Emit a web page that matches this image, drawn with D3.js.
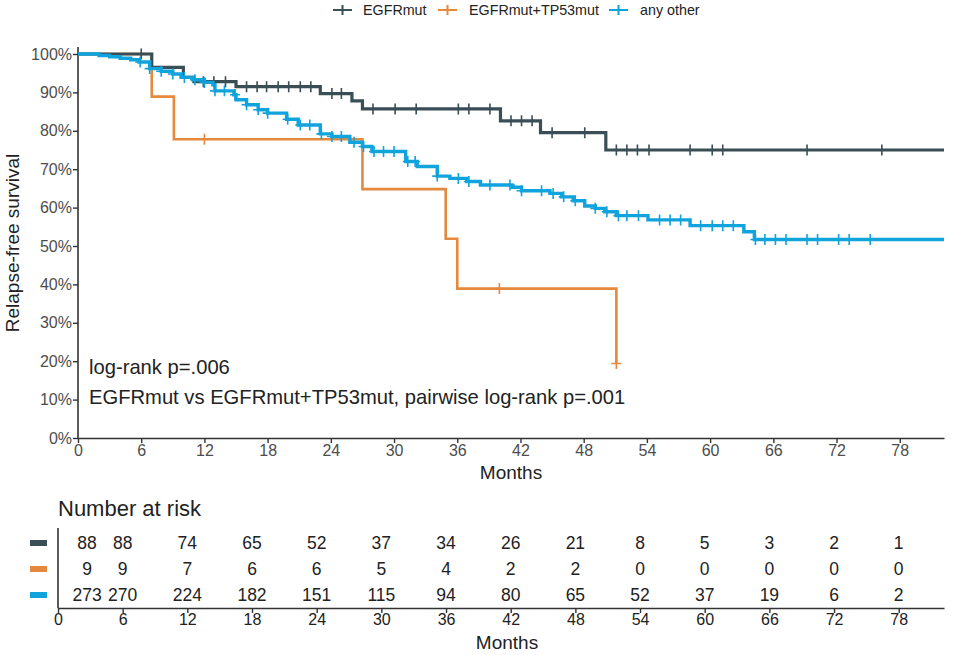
<!DOCTYPE html>
<html><head><meta charset="utf-8">
<script src="https://cdn.jsdelivr.net/npm/d3@7"></script>
<style>body{margin:0;background:#fff}text{font-family:"Liberation Sans",Arial,sans-serif}</style>
</head><body><svg id="c" width="955" height="655"></svg>
<script>
const groups = ["EGFRmut", "EGFRmut+TP53mut", "any other"];
const colors = ["#3a4e56", "#e4893d", "#10a3dc"];
// step data: [time, survival %]
const egfrSteps = [[0,100],[7.0,96.5],[10.0,93.9],[11.0,92.8],[15.0,91.5],[23.0,89.7],[26.0,87.8],[27.0,85.7],[40.1,82.6],[43.9,79.5],[50.1,75.0],[82.2,75.0]];
const egfrCensor = [6.0,11.9,12.9,14.0,16.0,17.0,17.9,19.0,20.0,21.1,22.1,24.1,25.0,28.0,30.1,32.1,36.1,37.1,39.1,41.1,42.1,43.1,45.0,48.1,51.1,52.1,53.1,54.2,58.1,60.2,61.2,69.2,76.3];
const tp53Steps = [[0,100],[7.0,88.9],[9.1,77.8],[27.0,64.8],[34.9,51.9],[36.0,38.9],[51.1,19.4]];
const tp53Censor = [12.0,40.0,51.1];
const otherSteps = [[0,100],[2.0,99.6],[3.0,99.3],[4.0,98.9],[5.0,98.5],[5.8,97.9],[6.8,96.2],[7.9,95.5],[9.0,94.8],[9.8,93.9],[10.9,93.3],[12.0,92.6],[12.8,92.0],[13.0,90.4],[14.8,89.4],[15.0,88.1],[16.0,86.8],[17.1,85.5],[18.0,84.6],[19.8,83.0],[20.9,81.5],[23.0,79.2],[24.1,78.5],[25.8,77.0],[27.0,75.9],[27.9,74.6],[31.1,72.0],[32.2,70.7],[34.1,68.2],[35.3,67.6],[36.9,66.8],[38.2,65.9],[41.2,65.3],[42.1,64.4],[44.8,63.7],[45.9,62.8],[47.0,61.8],[48.1,60.4],[49.1,59.8],[50.0,58.9],[51.1,57.9],[54.1,56.8],[58.1,55.3],[63.2,53.7],[64.2,51.7],[82.2,51.7]];
const otherCensor = [5.9,6.8,7.9,9.0,10.1,11.1,12.0,13.0,13.9,14.9,16.0,17.1,18.0,19.9,21.1,22.0,23.1,24.1,25.0,26.2,27.1,28.1,29.0,30.0,31.3,32.0,34.1,36.1,37.1,39.1,41.0,42.1,44.0,45.1,46.1,47.2,49.1,50.2,51.3,52.1,53.2,55.2,56.2,57.2,59.1,60.2,61.2,62.2,64.3,65.2,66.2,67.2,69.2,70.2,72.2,73.2,75.2];
const xTicks = [0,6,12,18,24,30,36,42,48,54,60,66,72,78];
const yTicks = [0,10,20,30,40,50,60,70,80,90,100];
const riskTimes = [2.7,6,12,18,24,30,36,42,48,54,60,66,72,78];
const riskEgfr = [88,88,74,65,52,37,34,26,21,8,5,3,2,1];
const riskTp53 = [9,9,7,6,6,5,4,2,2,0,0,0,0,0];
const riskOther = [273,270,224,182,151,115,94,80,65,52,37,19,6,2];
const annotations = ["log-rank p=.006", "EGFRmut vs EGFRmut+TP53mut, pairwise log-rank p=.001"];

const svg = d3.select("#c");
const x = d3.scaleLinear().domain([0, 82.2]).range([78, 944]);
const y = d3.scaleLinear().domain([0, 100]).range([438, 54]);
const axisCol = "#333";
const tickCol = "#4d4d4d";

// legend
const legSym = [333, 438, 609];
const legTxt = [363, 469, 640];
groups.forEach((g, i) => {
  svg.append("path").attr("transform", `translate(${legSym[i]},10)`)
    .attr("d", "M0,0H19M9.5,-5V5").attr("stroke", colors[i]).attr("stroke-width", 2).attr("fill", "none");
  svg.append("text").attr("x", legTxt[i]).attr("y", 15).attr("font-size", 14.3).attr("fill", "#222").text(g);
});

// axes
const xAxis = svg.append("g").attr("transform", "translate(0,438)")
  .call(d3.axisBottom(x).tickValues(xTicks).tickSize(5).tickSizeOuter(0));
const yAxis = svg.append("g").attr("transform", "translate(78,0)")
  .call(d3.axisLeft(y).tickValues(yTicks).tickFormat(d => d + "%").tickSize(5).tickSizeOuter(0));
[xAxis, yAxis].forEach(a => {
  a.select(".domain").attr("stroke", axisCol).attr("stroke-width", 1.6);
  a.selectAll(".tick line").attr("stroke", axisCol).attr("stroke-width", 1.4);
  a.selectAll("text").attr("font-size", 16).attr("fill", tickCol).attr("font-family", "Liberation Sans, Arial, sans-serif");
});
yAxis.select(".domain").attr("d", "M0,47V438");
yAxis.selectAll(".tick text").attr("x", -6);
xAxis.selectAll(".tick text").attr("y", 7);

svg.append("text").attr("x", 511).attr("y", 479).attr("text-anchor", "middle").attr("font-size", 19).attr("fill", "#222").text("Months");
svg.append("text").attr("transform", "translate(19,243) rotate(-90)").attr("text-anchor", "middle").attr("font-size", 19).attr("fill", "#222").text("Relapse-free survival");

// curves
const line = d3.line().x(d => x(d[0])).y(d => y(d[1])).curve(d3.curveStepAfter);
const sets = [[egfrSteps, egfrCensor, 3.2], [tp53Steps, tp53Censor, 2.6], [otherSteps, otherCensor, 3.4]];
const order = [1, 0, 2];
order.forEach(i => {
  const [steps, cens, w] = sets[i];
  svg.append("path").datum(steps).attr("d", line).attr("fill", "none").attr("stroke", colors[i]).attr("stroke-width", w);
  const sAt = t => { let s = 100; steps.forEach(p => { if (p[0] <= t) s = p[1]; }); return s; };
  svg.append("g").selectAll("path").data(cens).join("path")
    .attr("transform", t => `translate(${x(t)},${y(sAt(t))})`)
    .attr("d", "M-5,0H5M0,-5.5V5.5").attr("stroke", colors[i]).attr("stroke-width", 1.6).attr("fill", "none");
});

// annotations
svg.append("text").attr("x", 89).attr("y", 374).attr("font-size", 20.2).attr("fill", "#222").text(annotations[0]);
svg.append("text").attr("x", 89).attr("y", 404).attr("font-size", 20.2).attr("fill", "#222").text(annotations[1]);

// risk table
const xr = d3.scaleLinear().domain([0, 82.2]).range([58, 944]);
svg.append("text").attr("x", 58).attr("y", 516).attr("font-size", 22).attr("fill", "#222").text("Number at risk");
const rows = [riskEgfr, riskTp53, riskOther];
const rowY = [543, 569, 595];
rows.forEach((r, i) => {
  svg.append("rect").attr("x", 30).attr("y", rowY[i] - 3).attr("width", 17).attr("height", 6).attr("fill", colors[i]);
  svg.append("g").selectAll("text").data(r).join("text")
    .attr("x", (d, j) => xr(riskTimes[j])).attr("y", rowY[i] + 6).attr("text-anchor", "middle")
    .attr("font-size", 17.5).attr("fill", "#222").text(d => d);
});
const rAxis = svg.append("g").attr("transform", "translate(0,608)")
  .call(d3.axisBottom(xr).tickValues(xTicks).tickSize(5).tickSizeOuter(0));
rAxis.select(".domain").attr("stroke", axisCol).attr("stroke-width", 1.6);
rAxis.selectAll(".tick line").attr("stroke", axisCol).attr("stroke-width", 1.4);
rAxis.selectAll("text").attr("font-size", 16).attr("fill", "#222").attr("font-family", "Liberation Sans, Arial, sans-serif").attr("y", 6);
svg.append("line").attr("x1", 58).attr("x2", 58).attr("y1", 528).attr("y2", 608).attr("stroke", axisCol).attr("stroke-width", 1.6);
svg.append("text").attr("x", 507).attr("y", 649).attr("text-anchor", "middle").attr("font-size", 19).attr("fill", "#222").text("Months");
</script></body></html>
